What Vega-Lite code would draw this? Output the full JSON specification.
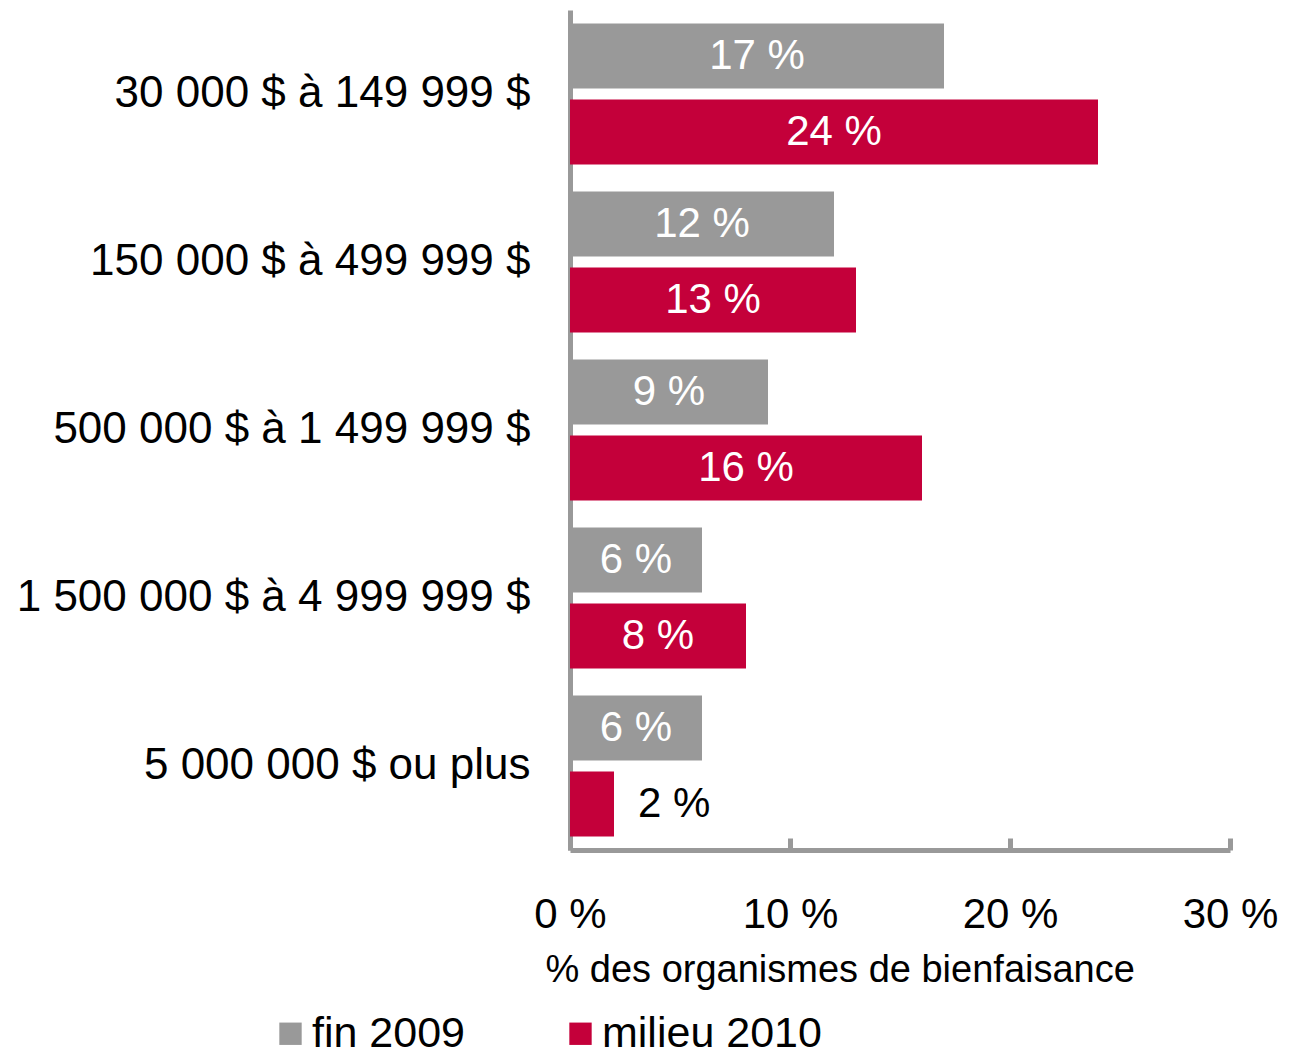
{
  "$schema": "https://vega.github.io/schema/vega-lite/v6.json",
  "autosize": "none",
  "width": 660,
  "height": 840,
  "padding": {"left": 570, "top": 10, "right": 71, "bottom": 206},
  "background": "white",
  "config": {
    "font": "Liberation Sans",
    "view": {"stroke": null}
  },
  "data": {
    "values": [
      {"tranche": "30 000 $ à 149 999 $", "periode": "fin 2009", "valeur": 17, "etiquette": "17 %"},
      {"tranche": "30 000 $ à 149 999 $", "periode": "milieu 2010", "valeur": 24, "etiquette": "24 %"},
      {"tranche": "150 000 $ à 499 999 $", "periode": "fin 2009", "valeur": 12, "etiquette": "12 %"},
      {"tranche": "150 000 $ à 499 999 $", "periode": "milieu 2010", "valeur": 13, "etiquette": "13 %"},
      {"tranche": "500 000 $ à 1 499 999 $", "periode": "fin 2009", "valeur": 9, "etiquette": "9 %"},
      {"tranche": "500 000 $ à 1 499 999 $", "periode": "milieu 2010", "valeur": 16, "etiquette": "16 %"},
      {"tranche": "1 500 000 $ à 4 999 999 $", "periode": "fin 2009", "valeur": 6, "etiquette": "6 %"},
      {"tranche": "1 500 000 $ à 4 999 999 $", "periode": "milieu 2010", "valeur": 8, "etiquette": "8 %"},
      {"tranche": "5 000 000 $ ou plus", "periode": "fin 2009", "valeur": 6, "etiquette": "6 %"},
      {"tranche": "5 000 000 $ ou plus", "periode": "milieu 2010", "valeur": 2, "etiquette": "2 %"}
    ]
  },
  "encoding": {
    "y": {
      "field": "tranche",
      "type": "nominal",
      "sort": null,
      "scale": {"paddingInner": 0.16, "paddingOuter": 0.08},
      "axis": {
        "title": null,
        "ticks": false,
        "labelFontSize": 44,
        "labelLimit": 0,
        "labelColor": "#000000",
        "labelPadding": 40,
        "domainColor": "#999999",
        "domainWidth": 5
      }
    },
    "yOffset": {
      "field": "periode",
      "type": "nominal",
      "sort": ["fin 2009", "milieu 2010"],
      "scale": {"paddingInner": 0.145, "paddingOuter": 0}
    }
  },
  "layer": [
    {
      "mark": {"type": "bar"},
      "encoding": {
        "x": {
          "field": "valeur",
          "type": "quantitative",
          "scale": {"domain": [0, 30]},
          "axis": {
            "values": [0, 10, 20, 30],
            "labelExpr": "datum.value + ' %'",
            "labelFontSize": 42,
            "labelFlush": false,
            "labelColor": "#000000",
            "labelPadding": 56,
            "tickSize": -12,
            "tickWidth": 5,
            "tickColor": "#999999",
            "domainColor": "#999999",
            "domainWidth": 5,
            "grid": false,
            "title": "% des organismes de bienfaisance",
            "titleFontSize": 38,
            "titleFontWeight": "normal",
            "titleColor": "#000000",
            "titleAnchor": "start",
            "titleAlign": "left",
            "titleX": -25,
            "titlePadding": 16
          }
        },
        "color": {
          "field": "periode",
          "type": "nominal",
          "sort": ["fin 2009", "milieu 2010"],
          "scale": {"domain": ["fin 2009", "milieu 2010"], "range": ["#999999", "#C4003A"]},
          "legend": {
            "title": null,
            "orient": "none",
            "direction": "horizontal",
            "legendX": -301,
            "legendY": 1002,
            "symbolType": "square",
            "symbolSize": 500,
            "symbolStrokeWidth": 0,
            "labelFontSize": 43,
            "labelLimit": 0,
            "labelColor": "#000000",
            "labelOffset": 0,
            "columnPadding": 93
          }
        }
      }
    },
    {
      "transform": [{"filter": "datum.valeur >= 5"}],
      "mark": {"type": "text", "color": "#FFFFFF", "fontSize": 42, "align": "center", "baseline": "middle"},
      "encoding": {
        "x": {"field": "valeur", "type": "quantitative", "scale": {"domain": [0, 60]}, "axis": null},
        "text": {"field": "etiquette"}
      }
    },
    {
      "transform": [{"filter": "datum.valeur < 5"}],
      "mark": {"type": "text", "color": "#000000", "fontSize": 42, "align": "left", "baseline": "middle", "dx": 24},
      "encoding": {
        "x": {"field": "valeur", "type": "quantitative", "scale": {"domain": [0, 30]}, "axis": null},
        "text": {"field": "etiquette"}
      }
    }
  ],
  "resolve": {"scale": {"x": "independent"}, "axis": {"x": "independent"}}
}
